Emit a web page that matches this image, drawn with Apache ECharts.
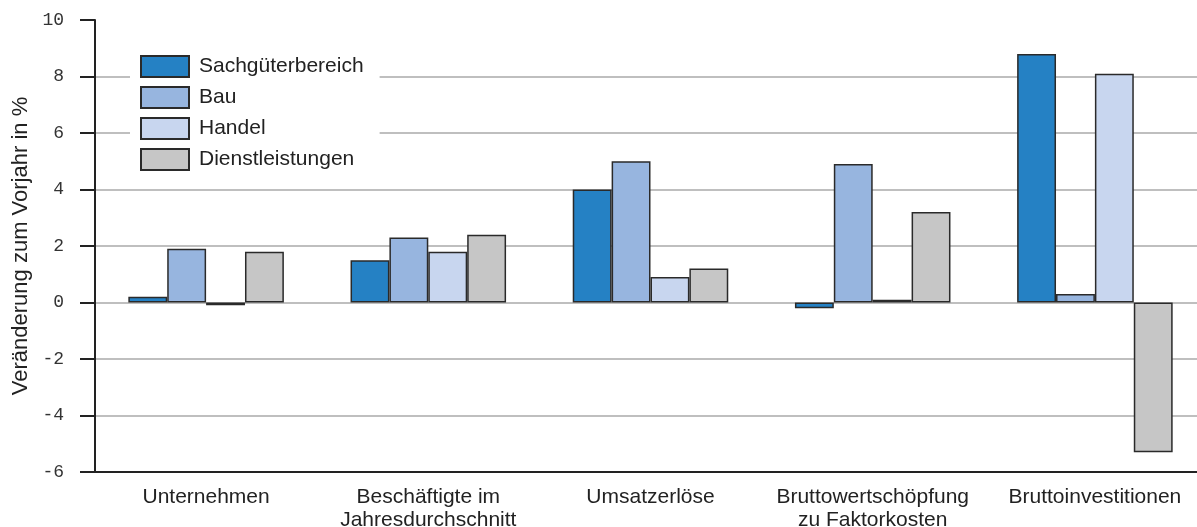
<!DOCTYPE html>
<html>
<head>
<meta charset="utf-8">
<script src="https://cdn.jsdelivr.net/npm/echarts@6/dist/echarts.min.js"></script>
<style>
html,body{margin:0;padding:0;background:#fff;}
#chart{width:1197px;height:527px;}
</style>
</head>
<body>
<div id="chart"></div>
<script>
const categories = ['Unternehmen', 'Beschäftigte im\nJahresdurchschnitt', 'Umsatzerlöse', 'Bruttowertschöpfung\nzu Faktorkosten', 'Bruttoinvestitionen'];
const seriesNames = ['Sachgüterbereich', 'Bau', 'Handel', 'Dienstleistungen'];
const sachgueter = [0.2, 1.5, 4.0, -0.2, 8.8];
const bau = [1.9, 2.3, 5.0, 4.9, 0.3];
const handel = [-0.1, 1.8, 0.9, 0.1, 8.1];
const dienst = [1.8, 2.4, 1.2, 3.2, -5.3];
const colors = ['#2581c4', '#97b5df', '#c8d6ef', '#c6c6c6'];
const yTitle = 'Veränderung zum Vorjahr in %';

const values = [sachgueter, bau, handel, dienst];
const chart = echarts.init(document.getElementById('chart'));
chart.setOption({
  animation: false,
  backgroundColor: '#fff',
  grid: { left: 95, top: 20, right: -9, bottom: 55, containLabel: false, outerBoundsMode: 'none' },
  legend: {
    orient: 'vertical', left: 130, top: 50,
    icon: 'rect',
    itemWidth: 48, itemHeight: 21, itemGap: 8,
    backgroundColor: '#fff', padding: [5, 16, 5, 10],
    textStyle: { fontFamily: 'Liberation Sans, Arial, sans-serif', fontSize: 21, color: '#222', padding: [0, 0, 0, 5] },
    data: seriesNames
  },
  xAxis: {
    type: 'category', data: categories,
    axisLine: { onZero: false, lineStyle: { color: '#222', width: 2 } },
    axisTick: { show: false },
    axisLabel: { fontFamily: 'Liberation Sans, Arial, sans-serif', fontSize: 21, color: '#222', margin: 14, lineHeight: 23, interval: 0 }
  },
  yAxis: {
    type: 'value', min: -6, max: 10, interval: 2,
    name: yTitle, nameLocation: 'middle', nameGap: 62, nameRotate: 90,
    nameTextStyle: { fontFamily: 'Liberation Sans, Arial, sans-serif', fontSize: 22, color: '#222' },
    axisLine: { show: true, lineStyle: { color: '#222', width: 2 } },
    axisTick: { show: true, length: 15, lineStyle: { color: '#222', width: 2 } },
    axisLabel: { fontFamily: 'Liberation Mono, DejaVu Sans Mono, monospace', fontSize: 18, color: '#333', margin: 31 },
    splitLine: { show: true, showMaxLine: false, lineStyle: { color: '#aaaaaa', width: 1.5 } }
  },
  series: seriesNames.map((n, i) => ({
    name: n, type: 'bar', data: values[i],
    barGap: '0%', barCategoryGap: '30%',
    itemStyle: { color: colors[i], borderColor: '#2a2a2a', borderWidth: 1.5 }
  }))
});
</script>
</body>
</html>
